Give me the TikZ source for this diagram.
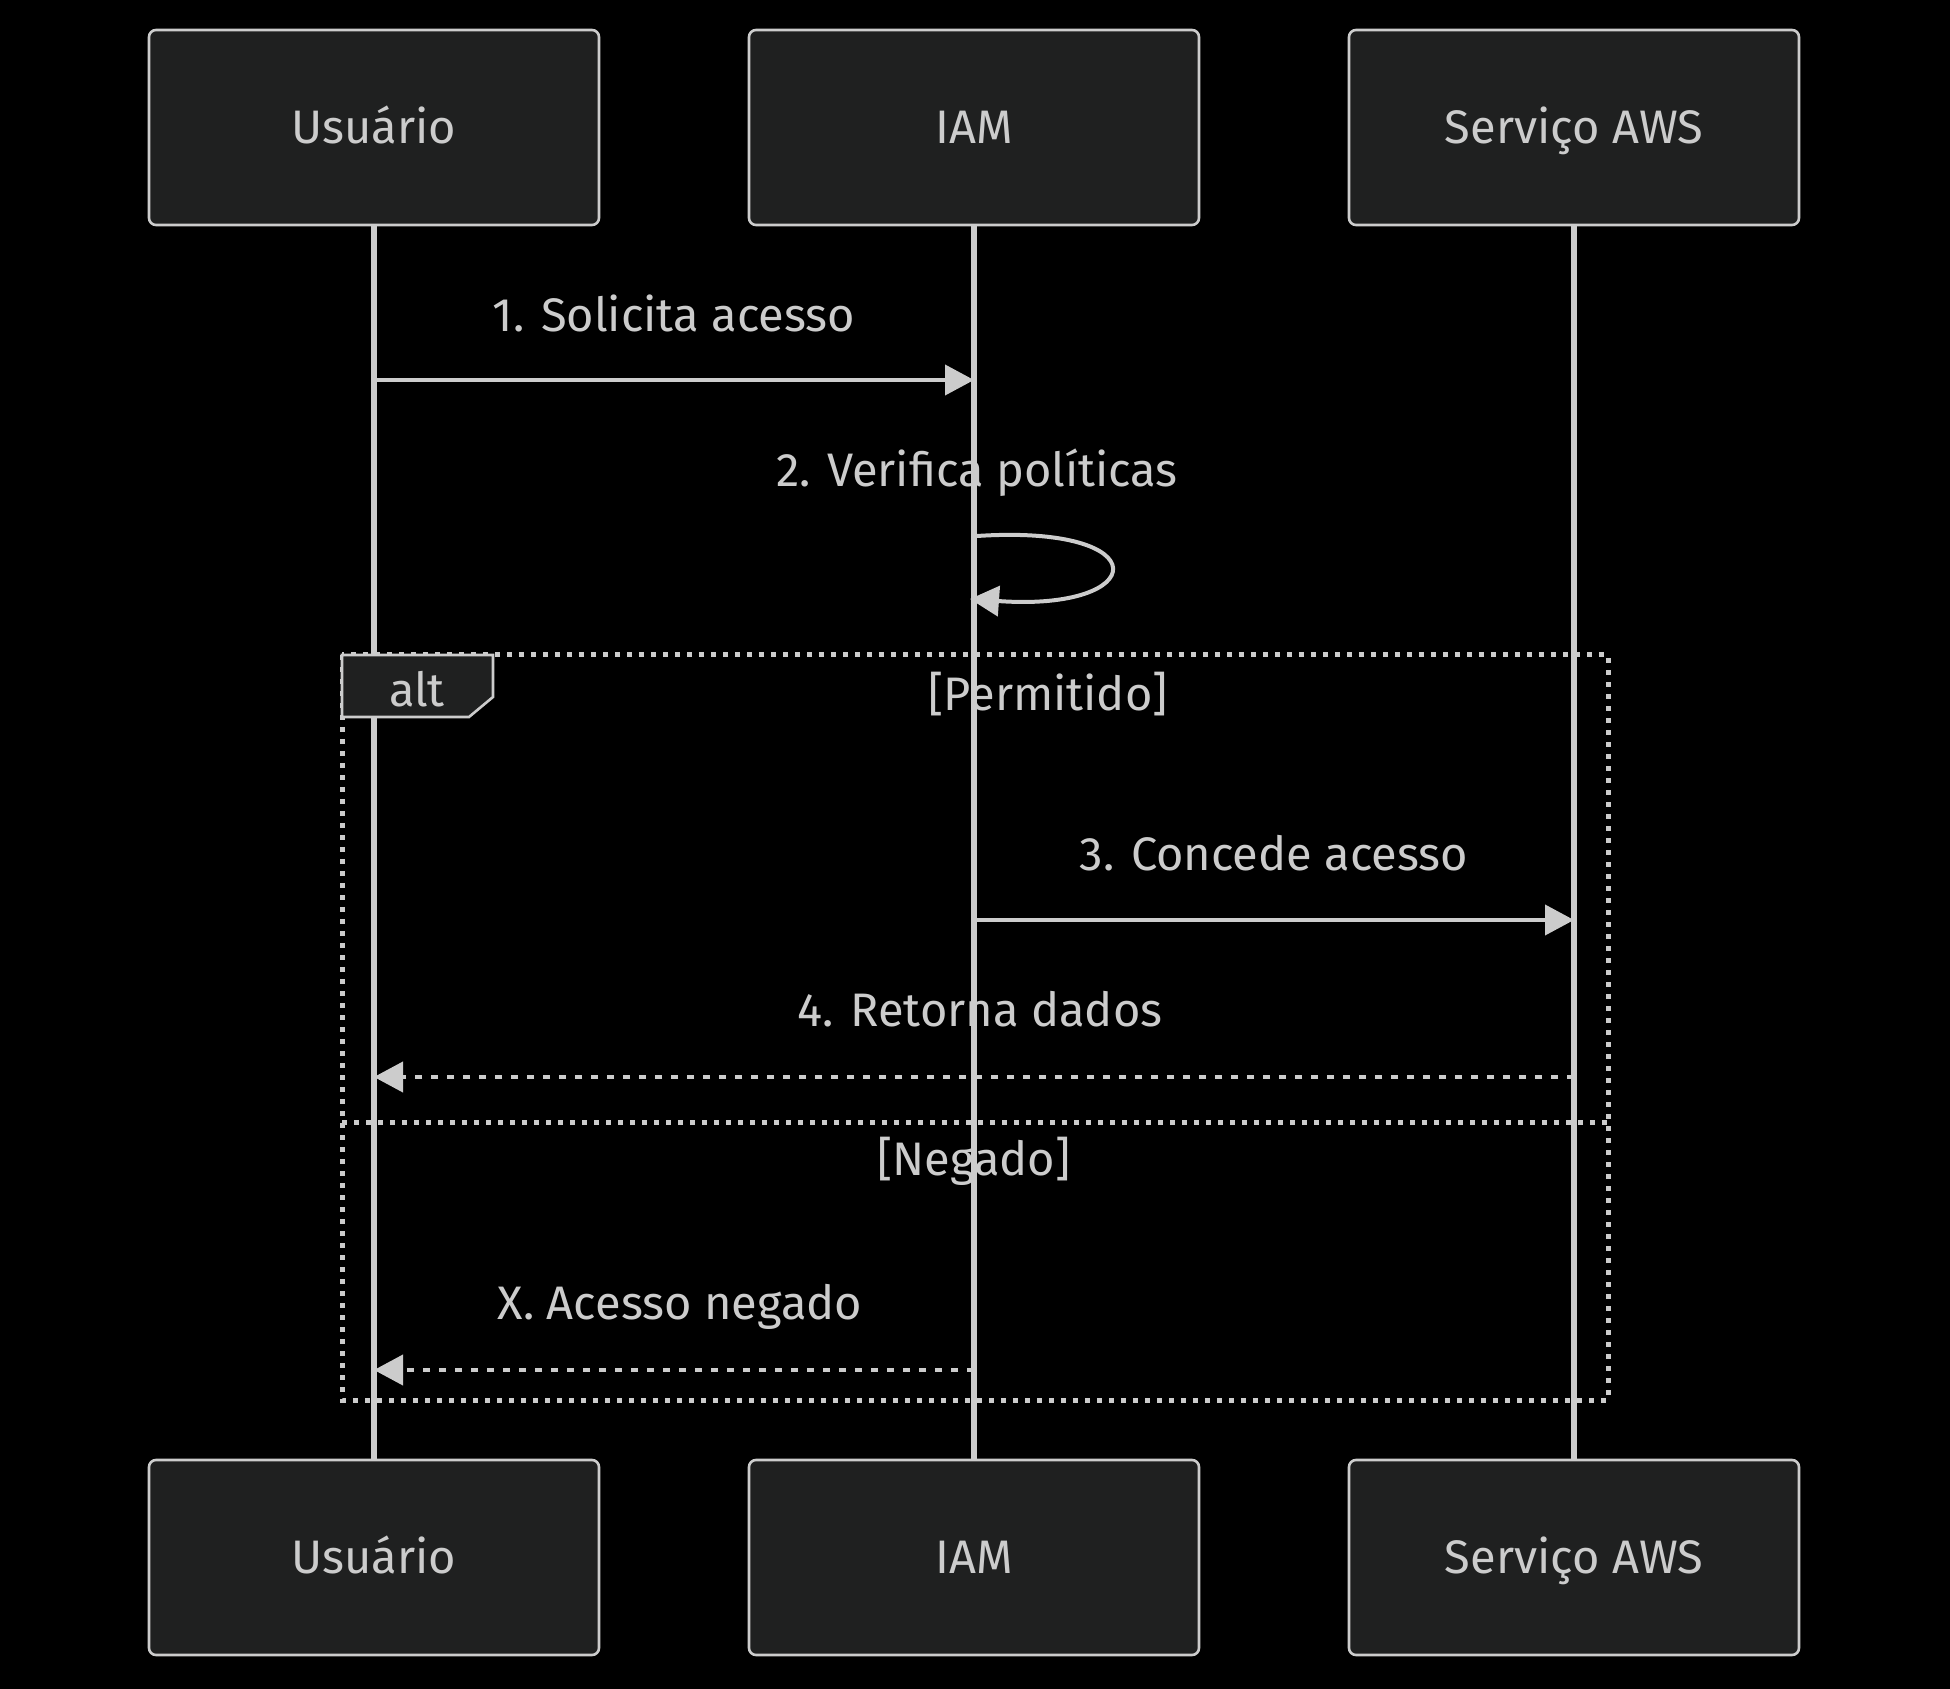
\documentclass[tikz,border=0pt]{standalone}
\usepackage{fontspec}
\setmainfont{Fira Sans}
\usetikzlibrary{positioning,arrows.meta}
\definecolor{boxfill}{HTML}{1F2020}
\definecolor{fg}{HTML}{CCCCCC}

\begin{document}
\begin{tikzpicture}[
  x=0.5pt, y=-0.5pt,
  node distance=75pt and 75pt,
  actor/.style={draw=fg,fill=boxfill,rounded corners=3.5pt,line width=1.3pt,outer sep=0pt,minimum width=225pt,minimum height=97.5pt,text=fg,font=\fontsize{23.5}{28}\selectfont,text height=16.2pt,text depth=0pt},
  lbl/.style={text=fg,font=\fontsize{23.5}{28}\selectfont,text height=16.2pt,text depth=0pt},
  life/.style={draw=fg,line width=3pt},
  msg/.style={draw=fg,line width=2pt,-{Triangle[length=14.5pt,width=15pt]}},
  reply/.style={msg,dash pattern=on 3.5pt off 4.5pt},
  frame/.style={draw=fg,line width=2.5pt,dash pattern=on 2.5pt off 3.5pt}
]
\fill[black] (0,0) rectangle (1950,1689);
\useasboundingbox (0,0) rectangle (1950,1689);
% participants
\node[actor] (U) at (374,127.5) {Usuário};
\node[actor,right=of U] (I) {IAM};
\node[actor,right=of I] (S) {Serviço AWS};
\node[actor,below=617.5pt of U] (Ub) {Usuário};
\node[actor,below=617.5pt of I] (Ib) {IAM};
\node[actor,below=617.5pt of S] (Sb) {Serviço AWS};
% labels
\node[lbl] (t1) at (674,315) {1. Solicita acesso};
\node[lbl] (t2) at (977,470) {2. Verifica políticas};
\node[lbl] (tp) at (1048,694) {[Permitido]};
\node[lbl] (t3) at (1274,854) {3. Concede acesso};
\node[lbl] (t4) at (980,1010) {4. Retorna dados};
\node[lbl] (tn) at (974,1159) {[Negado]};
\node[lbl] (t5) at (680,1303) {X. Acesso negado};
% lifelines
\draw[life] (U) -- (Ub);
\draw[life] (I) -- (Ib);
\draw[life] (S) -- (Sb);
% message ends
\coordinate (u1) at (U |- 0,380);
\coordinate (i1) at (I |- 0,380);
\coordinate (i2a) at ([xshift=1.5pt]I |- 0,536);
\coordinate (i2b) at ([xshift=-2pt]I |- 0,599);
\coordinate (i3) at ([xshift=1.5pt]I |- 0,920);
\coordinate (s3) at (S |- 0,920);
\coordinate (s4) at (S |- 0,1077);
\coordinate (u4) at (U |- 0,1077);
\coordinate (i5) at (I |- 0,1370);
\coordinate (u5) at (U |- 0,1370);
\draw[msg] ([xshift=1.5pt]u1) -- (i1);
\draw[msg] (i2a) .. controls (1160,524) and (1150,612) .. (i2b);
\draw[msg] (i3) -- (s3);
\draw[reply] (s4) -- (u4);
\draw[reply] (i5) -- (u5);
% alt frame
\draw[frame] (342,655) rectangle (1608,1400);
\draw[frame] (342,1122) -- (1608,1122);
\draw[draw=fg,fill=boxfill,line width=1.3pt] (342,655) -- (493,655) -- (493,697) -- (469,717) -- (342,717) -- cycle;
\node[lbl] (alt) at (417,690) {alt};
\end{tikzpicture}
\end{document}
